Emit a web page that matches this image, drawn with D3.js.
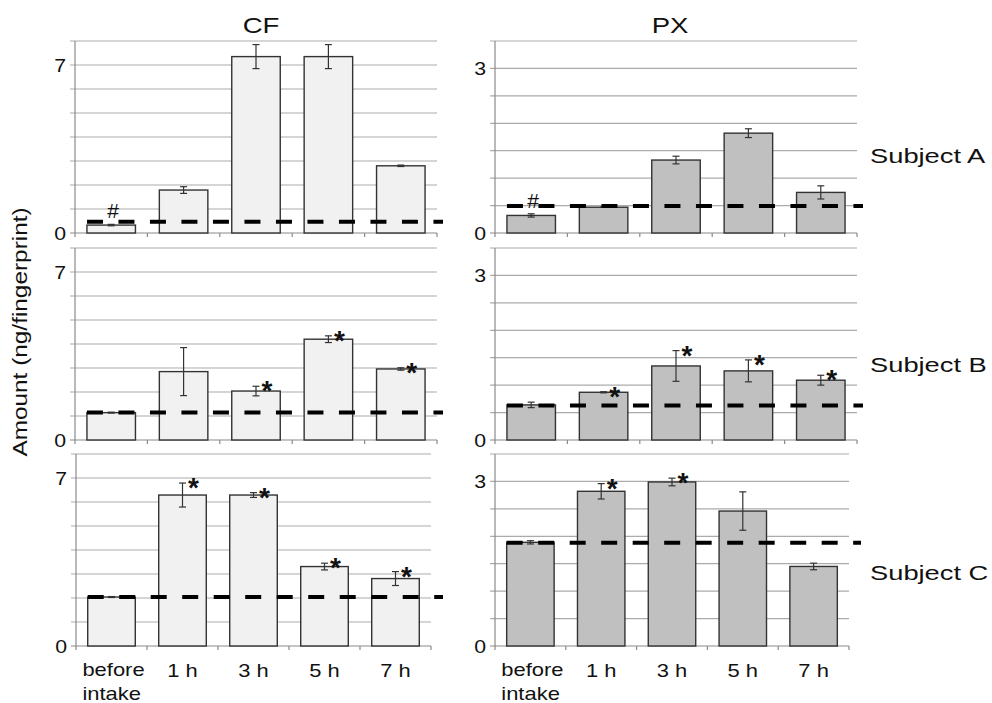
<!DOCTYPE html>
<html>
<head>
<meta charset="utf-8">
<script src="https://cdn.jsdelivr.net/npm/d3@7"></script>
<style>
  body { margin: 0; background: #fff; }
  svg { font-family: "Liberation Sans", Arial, sans-serif; }
</style>
</head>
<body>
<script>
// values (ng/fingerprint)
var categories = ['before intake', '1 h', '3 h', '5 h', '7 h'];

var cfA = [0.33, 1.79, 7.35, 7.35, 2.8];
var cfAErr = [0.03, 0.14, 0.5, 0.5, 0.03];
var pxA = [0.32, 0.47, 1.33, 1.82, 0.74];
var pxAErr = [0.03, 0, 0.07, 0.08, 0.12];

var cfB = [1.14, 2.85, 2.04, 4.2, 2.96];
var cfBErr = [0.02, 1.0, 0.2, 0.14, 0.05];
var pxB = [0.64, 0.87, 1.35, 1.26, 1.09];
var pxBErr = [0.05, 0.01, 0.28, 0.2, 0.09];

var cfC = [2.04, 6.29, 6.29, 3.31, 2.81];
var cfCErr = [0.02, 0.5, 0.1, 0.14, 0.29];
var pxC = [1.89, 2.82, 2.99, 2.46, 1.45];
var pxCErr = [0.03, 0.14, 0.07, 0.35, 0.06];

// dashed reference level per subject
var cfLevel = [0.47, 1.15, 2.04];
var pxLevel = [0.49, 0.63, 1.88];

var cfMarks = [['#', '', '', '', ''], ['', '', '*', '*', '*'], ['', '*', '*', '*', '*']];
var pxMarks = [['#', '', '', '', ''], ['', '*', '*', '*', '*'], ['', '*', '*', '', '']];

var subjects = ['Subject A', 'Subject B', 'Subject C'];
var compounds = ['CF', 'PX'];
var cfTicks = [0, 7];
var pxTicks = [0, 3];

var width = 992, height = 703;

var svg = d3.select('body')
  .append('svg')
  .attr('width', width)
  .attr('height', height);

// the original figure uses horizontally stretched lettering
function label(parent, x, y, txt, size, anchor, sx, rot) {
  return parent.append('text')
    .attr('transform', 'translate(' + x + ',' + y + ')' + (rot ? ' rotate(' + rot + ')' : '') + ' scale(' + sx + ',1)')
    .attr('text-anchor', anchor)
    .attr('font-size', size + 'px')
    .attr('fill', '#111')
    .text(txt);
}

// layout of the six panels
var rows = [
  { top: 41, bottom: 233, cf: [75, 437], px: [495, 857] },
  { top: 248, bottom: 440, cf: [75, 437], px: [495, 857] },
  { top: 454, bottom: 646, cf: [76, 431], px: [495, 849] }
];

var panels = [];
rows.forEach(function(r, i) {
  panels.push({ row: i, x: r.cf, top: r.top, bottom: r.bottom, max: 8, step: 1, ticks: cfTicks,
    values: [cfA, cfB, cfC][i], errs: [cfAErr, cfBErr, cfCErr][i], level: cfLevel[i],
    marks: cfMarks[i], fill: '#f1f1f1' });
  panels.push({ row: i, x: r.px, top: r.top, bottom: r.bottom, max: 3.5, step: 0.5, ticks: pxTicks,
    values: [pxA, pxB, pxC][i], errs: [pxAErr, pxBErr, pxCErr][i], level: pxLevel[i],
    marks: pxMarks[i], fill: '#c0c0c0' });
});

panels.forEach(function(p) {
  var x = d3.scaleBand()
    .domain(categories)
    .range(p.x)
    .paddingInner(0.33)
    .paddingOuter(0.165);
  var y = d3.scaleLinear()
    .domain([0, p.max])
    .range([p.bottom, p.top]);

  var g = svg.append('g');
  var cx = function(i) { return x(categories[i]) + x.bandwidth() / 2; };

  // gridlines
  var grid = d3.range(0, p.max + p.step / 2, p.step);
  g.selectAll('.grid')
    .data(grid)
    .enter()
    .append('line')
    .attr('x1', p.x[0] - 5)
    .attr('x2', p.x[1])
    .attr('y1', function(d) { return y(d); })
    .attr('y2', function(d) { return y(d); })
    .attr('stroke', function(d) { return d === 0 ? '#8a8a8a' : '#ababab'; })
    .attr('stroke-width', 1.2);

  // y axis line
  g.append('line')
    .attr('x1', p.x[0]).attr('x2', p.x[0])
    .attr('y1', p.top).attr('y2', p.bottom)
    .attr('stroke', '#8a8a8a')
    .attr('stroke-width', 1.2);

  // category tick marks
  var step = x.step();
  g.selectAll('.ctick')
    .data(d3.range(categories.length + 1))
    .enter()
    .append('line')
    .attr('x1', function(i) { return p.x[0] + i * step; })
    .attr('x2', function(i) { return p.x[0] + i * step; })
    .attr('y1', p.bottom)
    .attr('y2', p.bottom + 4)
    .attr('stroke', '#8a8a8a')
    .attr('stroke-width', 1.2);

  // tick labels
  p.ticks.forEach(function(t) {
    label(g, p.x[0] - 9, y(t) + 7, t, 18.5, 'end', 1.15);
  });

  // bars
  g.selectAll('.bar')
    .data(p.values)
    .enter()
    .append('rect')
    .attr('x', function(d, i) { return x(categories[i]); })
    .attr('y', function(d) { return y(d); })
    .attr('width', x.bandwidth())
    .attr('height', function(d) { return p.bottom - y(d); })
    .attr('fill', p.fill)
    .attr('stroke', '#333')
    .attr('stroke-width', 1.4);

  // error bars
  p.values.forEach(function(v, i) {
    var e = p.errs[i];
    var hi = y(v + e), lo = y(v - e);
    g.append('line')
      .attr('x1', cx(i)).attr('x2', cx(i))
      .attr('y1', hi).attr('y2', lo)
      .attr('stroke', '#333').attr('stroke-width', 1.2);
    [hi, lo].forEach(function(yy) {
      g.append('line')
        .attr('x1', cx(i) - 3.5).attr('x2', cx(i) + 3.5)
        .attr('y1', yy).attr('y2', yy)
        .attr('stroke', '#333').attr('stroke-width', 1.2);
    });
  });

  // dashed reference level
  g.append('line')
    .attr('x1', x(categories[0]))
    .attr('x2', p.x[1] + (p.row === 2 ? 12 : 6))
    .attr('y1', y(p.level))
    .attr('y2', y(p.level))
    .attr('stroke', '#000')
    .attr('stroke-width', 4)
    .attr('stroke-dasharray', '16,15.5');

  // significance marks
  p.marks.forEach(function(m, i) {
    if (m === '') return;
    var top = y(p.values[i] + p.errs[i]);
    if (m === '#') {
      label(g, cx(i) + 2, top - 6, m, 21, 'middle', 1.0);
    } else {
      label(g, cx(i) + 11, top + 14, m, 28, 'middle', 1.0).attr('font-weight', 'bold');
    }
  });

  // category labels under the last row
  if (p.row === 2) {
    categories.forEach(function(c, i) {
      if (c === 'before intake') {
        var t = label(g, 0, 0, 'before', 18, 'start', 1.22);
        var w = t.node().getComputedTextLength() * 1.22;
        t.remove();
        label(g, cx(i) - w / 2 + 2, p.bottom + 30, 'before', 18, 'start', 1.22);
        label(g, cx(i) - w / 2 + 2, p.bottom + 54, 'intake', 18, 'start', 1.22);
      } else {
        label(g, cx(i), p.bottom + 31, c, 18, 'middle', 1.22);
      }
    });
  }
});

// column titles
compounds.forEach(function(d, i) {
  label(svg, i === 0 ? 261 : 670, 33, d, 22, 'middle', 1.25);
});

// subject labels
subjects.forEach(function(d, i) {
  label(svg, 870, [163, 372, 580][i], d, 21, 'start', 1.3);
});

// y axis title
label(svg, 27, 332, 'Amount (ng/fingerprint)', 19.5, 'middle', 1.25, -90);
</script>
</body>
</html>
